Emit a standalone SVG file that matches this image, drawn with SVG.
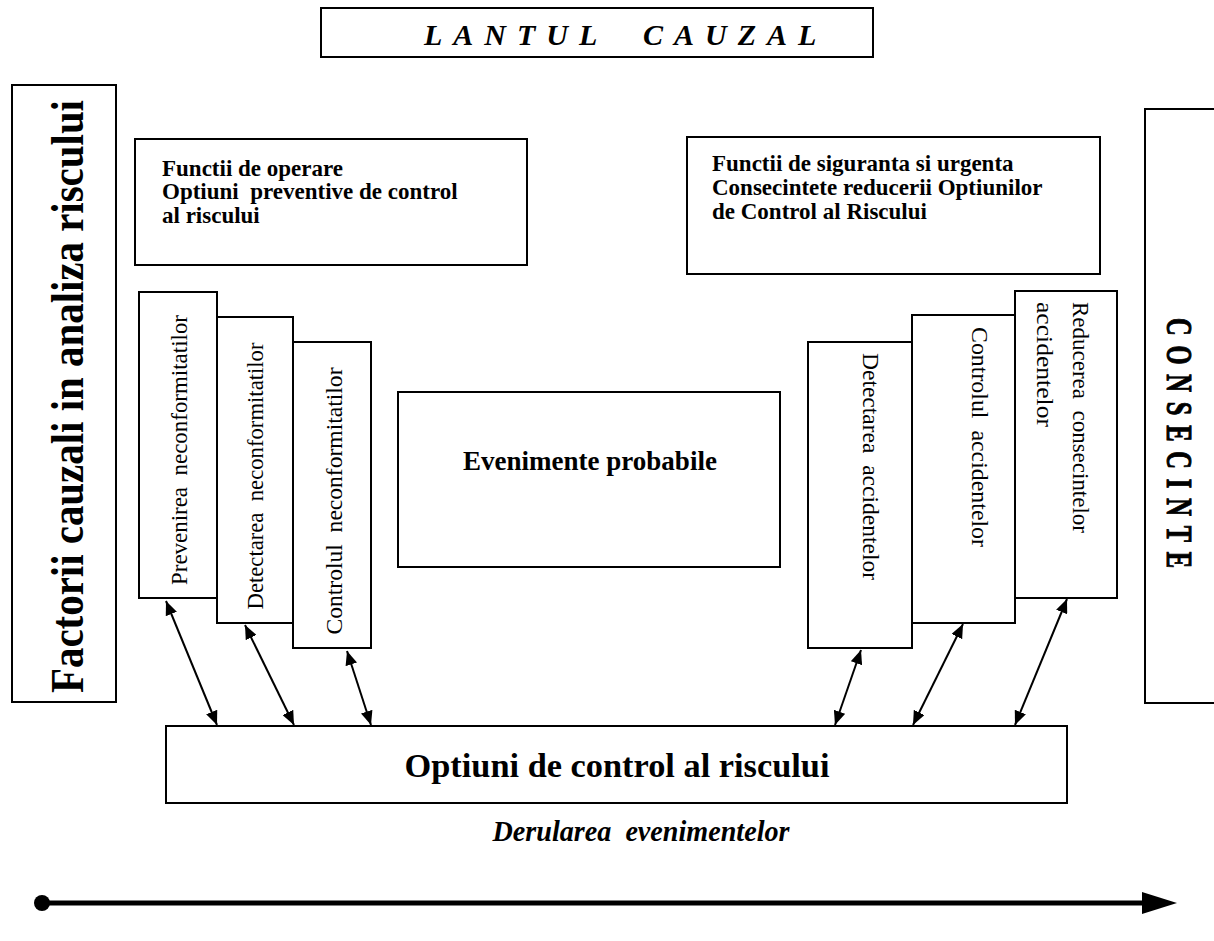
<svg xmlns="http://www.w3.org/2000/svg" width="1214" height="941" viewBox="0 0 1214 941">
  <style>
    .box { fill: #ffffff; stroke: #000000; stroke-width: 2; }
    .edge { fill: none; stroke: #000000; stroke-width: 2; }
    .t { font-family: "Liberation Serif", "Times New Roman", serif; fill: #000000; }
    .b { font-weight: bold; }
    .i { font-style: italic; }
    .link { stroke: #000000; stroke-width: 2; fill: none; marker-start: url(#head); marker-end: url(#head); }
  </style>
  <defs>
    <marker id="head" viewBox="0 0 14 12" refX="14" refY="6" markerWidth="14" markerHeight="12" markerUnits="userSpaceOnUse" orient="auto-start-reverse">
      <path d="M0,0 L14,6 L0,12 Z" fill="#000000"/>
    </marker>
  </defs>
  <rect width="1214" height="941" fill="#ffffff"/>

  <!-- title -->
  <g id="title">
    <rect class="box" x="321" y="8" width="552" height="49"/>
    <text class="t b i" x="424" y="45" font-size="30" letter-spacing="11">LANTUL</text>
    <text class="t b i" x="643" y="45" font-size="30" letter-spacing="11">CAUZAL</text>
  </g>

  <!-- left side band -->
  <g id="factori">
    <rect class="box" x="12" y="85" width="104" height="617"/>
    <text class="t b" transform="translate(83,693) rotate(-90)" font-size="47" textLength="593" lengthAdjust="spacingAndGlyphs">Factorii cauzali in analiza riscului</text>
  </g>

  <!-- right side band, open on the right -->
  <g id="consecinte">
    <path class="edge" d="M1214,109 L1145,109 L1145,703 L1214,703"/>
    <text class="t b" transform="translate(1167,318) rotate(90) scale(0.7,1)" font-size="35" letter-spacing="14" stroke="#000000" stroke-width="1">CONSECINTE</text>
  </g>

  <!-- upper function boxes -->
  <g id="functii-operare">
    <rect class="box" x="135" y="139" width="392" height="126"/>
    <text class="t b" font-size="23">
      <tspan x="162" y="176">Functii de operare</tspan>
      <tspan x="162" y="199" xml:space="preserve">Optiuni  preventive de control</tspan>
      <tspan x="162" y="223">al riscului</tspan>
    </text>
  </g>
  <g id="functii-siguranta">
    <rect class="box" x="687" y="137" width="413" height="137"/>
    <text class="t b" font-size="23">
      <tspan x="712" y="171">Functii de siguranta si urgenta</tspan>
      <tspan x="712" y="195">Consecintete reducerii Optiunilor</tspan>
      <tspan x="712" y="219">de Control al Riscului</tspan>
    </text>
  </g>

  <!-- preventive stages -->
  <g id="prevenirea">
    <rect class="box" x="139" y="292" width="78" height="306"/>
    <text class="t" transform="translate(187,450) rotate(-90)" font-size="24" text-anchor="middle" textLength="270" lengthAdjust="spacingAndGlyphs" xml:space="preserve">Prevenirea  neconformitatilor</text>
  </g>
  <g id="detectarea-nec">
    <rect class="box" x="217" y="317" width="76" height="306"/>
    <text class="t" transform="translate(263,476) rotate(-90)" font-size="24" text-anchor="middle" textLength="267" lengthAdjust="spacingAndGlyphs" xml:space="preserve">Detectarea  neconformitatilor</text>
  </g>
  <g id="controlul-nec">
    <rect class="box" x="293" y="342" width="78" height="306"/>
    <text class="t" transform="translate(342,501) rotate(-90)" font-size="24" text-anchor="middle" textLength="267" lengthAdjust="spacingAndGlyphs" xml:space="preserve">Controlul  neconformitatilor</text>
  </g>

  <!-- central event -->
  <g id="evenimente">
    <rect class="box" x="398" y="392" width="382" height="175"/>
    <text class="t b" x="590" y="470" font-size="27" text-anchor="middle">Evenimente probabile</text>
  </g>

  <!-- mitigation stages -->
  <g id="detectarea-acc">
    <rect class="box" x="808" y="342" width="104" height="306"/>
    <text class="t" transform="translate(863,353) rotate(90)" font-size="24" textLength="227" lengthAdjust="spacingAndGlyphs" xml:space="preserve">Detectarea  accidentelor</text>
  </g>
  <g id="controlul-acc">
    <rect class="box" x="912" y="315" width="103" height="308"/>
    <text class="t" transform="translate(972,327) rotate(90)" font-size="24" textLength="220" lengthAdjust="spacingAndGlyphs" xml:space="preserve">Controlul  accidentelor</text>
  </g>
  <g id="reducerea">
    <rect class="box" x="1015" y="291" width="102" height="307"/>
    <text class="t" transform="translate(1073,302) rotate(90)" font-size="24" textLength="231" lengthAdjust="spacingAndGlyphs" xml:space="preserve">Reducerea  consecintelor</text>
    <text class="t" transform="translate(1037,302) rotate(90)" font-size="24" textLength="125" lengthAdjust="spacingAndGlyphs">accidentelor</text>
  </g>

  <!-- control options -->
  <g id="optiuni">
    <rect class="box" x="166" y="726" width="901" height="77"/>
    <text class="t b" x="617" y="777" font-size="34" text-anchor="middle" textLength="425" lengthAdjust="spacingAndGlyphs">Optiuni de control al riscului</text>
  </g>

  <!-- time axis -->
  <g id="derularea">
    <text class="t b i" x="641" y="841" font-size="30" text-anchor="middle" textLength="297" lengthAdjust="spacingAndGlyphs" xml:space="preserve">Derularea  evenimentelor</text>
    <circle cx="42" cy="903" r="8" fill="#000000"/>
    <line x1="42" y1="903" x2="1150" y2="903" stroke="#000000" stroke-width="5"/>
    <path d="M1142,892 L1177,903 L1142,914 Z" fill="#000000"/>
  </g>

  <!-- connectors between stages and control options -->
  <g id="connectors">
    <line class="link" x1="166" y1="601" x2="217" y2="725"/>
    <line class="link" x1="245" y1="625" x2="294" y2="725"/>
    <line class="link" x1="347" y1="651" x2="371" y2="725"/>
    <line class="link" x1="861" y1="650" x2="835" y2="725"/>
    <line class="link" x1="963" y1="624" x2="913" y2="725"/>
    <line class="link" x1="1067" y1="599" x2="1015" y2="725"/>
  </g>
</svg>
